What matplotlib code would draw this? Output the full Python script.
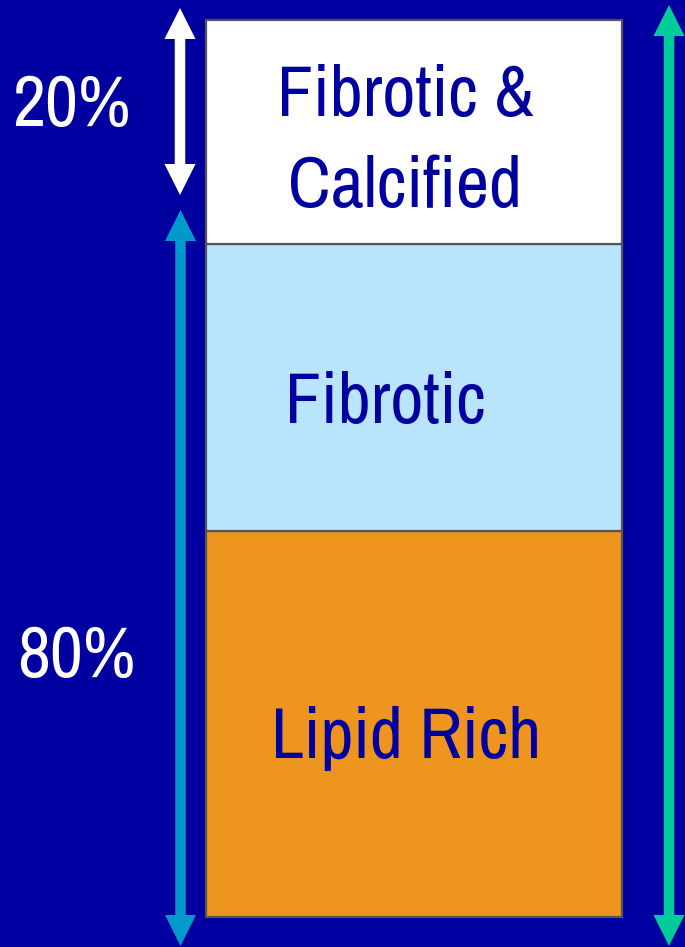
import matplotlib
matplotlib.use("Agg")
import matplotlib.pyplot as plt
import numpy as np
from matplotlib.patches import FancyArrow

# stacked column, bottom to top (percent of bar height)
categories = ["Lipid Rich", "Fibrotic", "Fibrotic &\nCalcified"]
shares = [43, 32, 25]
seg_colors = ["#EE951F", "#B8E5FB", "#FFFFFF"]
group_labels = ["20%", "80%"]

BG = "#0000A0"
TEXT_BLUE = "#0000A0"
TEAL = "#0099CC"
GREEN = "#00CC99"

W, H = 685, 947
BAR_TOP, BAR_BOT = 20, 917          # pixel rows of the bar
BAR_LEFT, BAR_RIGHT = 206, 622
K = 100.0 / (BAR_BOT - BAR_TOP)     # percent per pixel row


def py(row):
    """pixel row -> data value on the percent axis"""
    return (BAR_BOT - row) * K


plt.rcParams["font.family"] = ["Archivo Narrow", "Liberation Sans", "DejaVu Sans"]
FS = 52

fig = plt.figure(figsize=(W / 100, H / 100), dpi=100, facecolor=BG)
ax = fig.add_axes([0, 0, 1, 1])
ax.set_facecolor(BG)
ax.set_xlim(0, W)
ax.set_ylim(py(H), py(0))
ax.axis("off")

bottoms = np.concatenate([[0], np.cumsum(shares)[:-1]])
bar_x = (BAR_LEFT + BAR_RIGHT) / 2
ax.bar(bar_x, shares, bottom=bottoms, width=BAR_RIGHT - BAR_LEFT,
       color=seg_colors, edgecolor="#555555", linewidth=1.6, zorder=2)

# segment labels (x centre, anchor row)
label_x = [406, 385, 405]
label_row = [732, 397, 122]
for cat, x, row in zip(categories, label_x, label_row):
    ax.text(x, py(row), cat, ha="center", va="center_baseline",
            fontsize=FS, color=TEXT_BLUE, linespacing=1.5, zorder=3)

# share labels on the left
ax.text(71, py(100), group_labels[0], ha="center", va="center_baseline",
        fontsize=FS, color="white")
ax.text(76.5, py(651), group_labels[1], ha="center", va="center_baseline",
        fontsize=FS, color="white")


def double_arrow(x, top_row, bot_row, color, head=31):
    top, bot = py(top_row), py(bot_row)
    hl = head * K
    start = bot + 0.6 * hl  # tuck the shaft end inside the lower head
    ax.add_patch(FancyArrow(x, start, 0, top - start, width=10.5, head_width=head,
                            head_length=hl, length_includes_head=True,
                            color=color, linewidth=0, zorder=4))
    ax.add_patch(FancyArrow(x, bot + hl, 0, -hl, width=10.5, head_width=head,
                            head_length=hl, length_includes_head=True,
                            color=color, linewidth=0, zorder=4))


double_arrow(180, 8, 195, "white")
double_arrow(180.5, 210, 946, TEAL)
double_arrow(669, 5, 946, GREEN)

fig.savefig("out.png", dpi=100, facecolor=BG)
